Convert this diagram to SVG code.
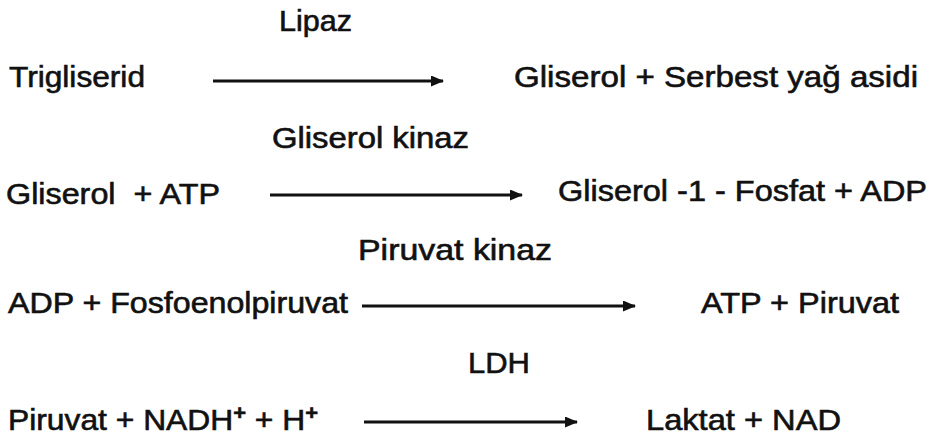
<svg xmlns="http://www.w3.org/2000/svg" width="931" height="438" viewBox="0 0 931 438">
<style>
text{font-family:"Liberation Sans",Arial,sans-serif;font-size:29px;fill:#111;stroke:#111;stroke-width:0.6;white-space:pre}
.sup{font-size:20px;font-weight:bold}
.arr{stroke:#111;stroke-width:2.8;fill:none}
</style>
<defs>
<marker id="ah" markerWidth="13" markerHeight="11" refX="12" refY="5.5" orient="auto" markerUnits="userSpaceOnUse">
<path d="M0,0 L13,5.5 L0,11 Z" fill="#111"/>
</marker>
</defs>
<rect width="931" height="438" fill="#fff"/>
<g id="enzymes">
<text id="lipaz" x="279" y="31" textLength="73" lengthAdjust="spacingAndGlyphs">Lipaz</text>
<text id="gliserolkinaz" x="272" y="148" textLength="197" lengthAdjust="spacingAndGlyphs">Gliserol kinaz</text>
<text id="piruvatkinaz" x="358" y="260" textLength="194" lengthAdjust="spacingAndGlyphs">Piruvat kinaz</text>
<text id="ldh" x="468" y="373" textLength="62" lengthAdjust="spacingAndGlyphs">LDH</text>
</g>
<g id="r1">
<text id="trigliserid" x="9" y="87" textLength="136" lengthAdjust="spacingAndGlyphs">Trigliserid</text>
<text id="p1" x="514" y="87" textLength="404" lengthAdjust="spacingAndGlyphs">Gliserol + Serbest yağ asidi</text>
</g>
<g id="r2">
<text id="s2" x="6" y="204" textLength="214" lengthAdjust="spacingAndGlyphs">Gliserol  + ATP</text>
<text id="p2" x="558" y="201" textLength="369" lengthAdjust="spacingAndGlyphs">Gliserol -1 - Fosfat + ADP</text>
</g>
<g id="r3">
<text id="s3" x="8" y="313" textLength="340" lengthAdjust="spacingAndGlyphs">ADP + Fosfoenolpiruvat</text>
<text id="p3" x="701" y="313" textLength="198" lengthAdjust="spacingAndGlyphs">ATP + Piruvat</text>
</g>
<g id="r4">
<text id="s4" x="8" y="430" textLength="310" lengthAdjust="spacingAndGlyphs">Piruvat + NADH<tspan class="sup" dy="-10">+</tspan><tspan dy="10"> + H</tspan><tspan class="sup" dy="-10">+</tspan></text>
<text id="p4" x="646" y="430" textLength="195" lengthAdjust="spacingAndGlyphs">Laktat + NAD</text>
</g>
<g id="connectors">
<line class="arr" x1="213" y1="81" x2="443" y2="81" marker-end="url(#ah)"/>
<line class="arr" x1="270" y1="195" x2="522" y2="195" marker-end="url(#ah)"/>
<line class="arr" x1="362" y1="306" x2="635" y2="306" marker-end="url(#ah)"/>
<line class="arr" x1="364" y1="422" x2="577" y2="422" marker-end="url(#ah)"/>
</g>
</svg>
